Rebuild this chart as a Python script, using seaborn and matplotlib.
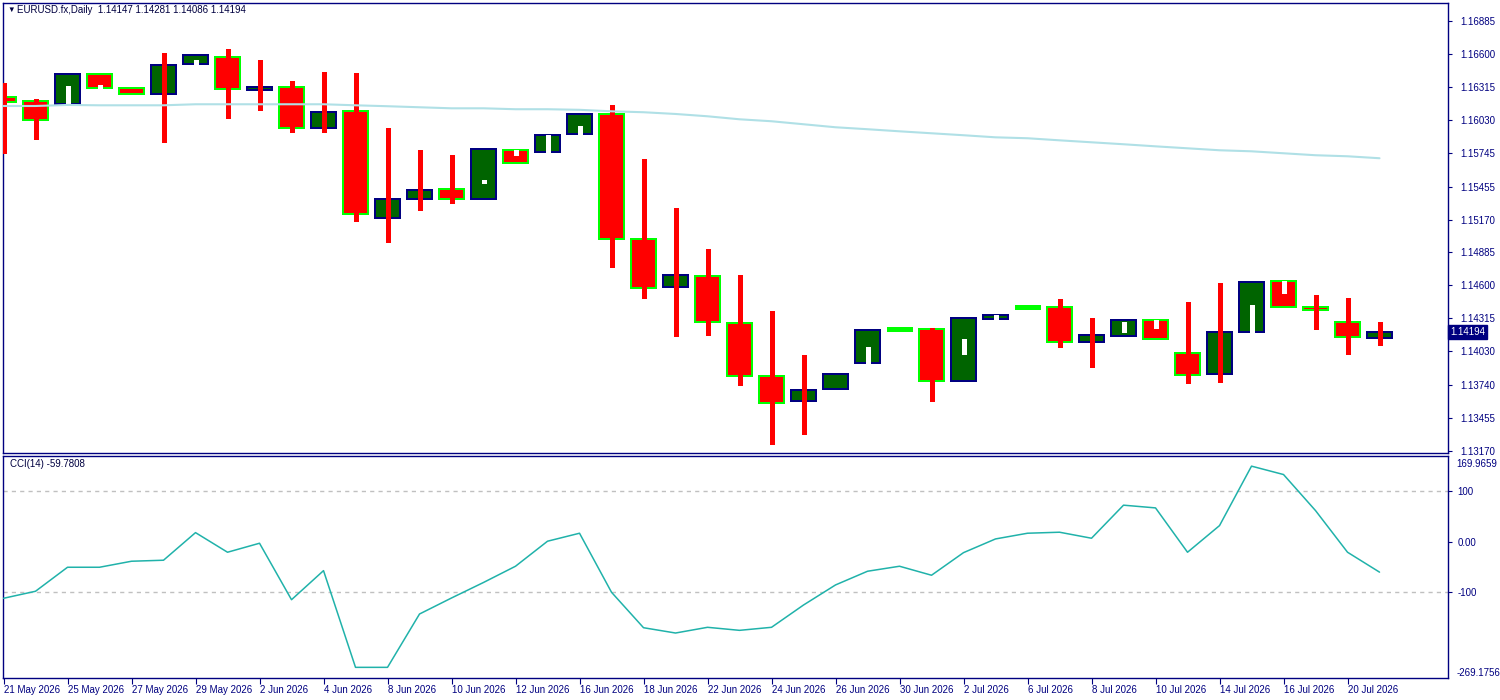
import matplotlib
matplotlib.use("Agg")
import matplotlib.pyplot as plt
import matplotlib.transforms as mtransforms
import numpy as np
import pandas as pd
import seaborn as sns

# daily bars, 21 May .. 21 Jul 2026 (weekdays)
dates = pd.bdate_range("2026-05-21", "2026-07-21")

opens = [1.16227, 1.16193, 1.16167, 1.16426, 1.16305, 1.16253, 1.16513, 1.16574, 1.16293, 1.16314,
         1.15964, 1.16109, 1.15186, 1.15345, 1.15431, 1.15345, 1.15769, 1.15757, 1.15913, 1.16080,
         1.15004, 1.14584, 1.14679, 1.14272, 1.13814, 1.13597, 1.13701, 1.13926, 1.14220, 1.14220,
         1.13770, 1.14307, 1.14416, 1.14411, 1.14113, 1.14165, 1.14298, 1.14013, 1.13831, 1.14194,
         1.14635, 1.14411, 1.14281, 1.14147]
highs = [1.16349, 1.16213, 1.16426, 1.16426, 1.16305, 1.16608, 1.16593, 1.16645, 1.16550, 1.16369,
         1.16446, 1.16438, 1.15962, 1.15772, 1.15728, 1.15778, 1.15769, 1.15899, 1.16080, 1.16161,
         1.15694, 1.15270, 1.14915, 1.14690, 1.14379, 1.13998, 1.13831, 1.14212, 1.14220, 1.14231,
         1.14315, 1.14341, 1.14416, 1.14482, 1.14318, 1.14298, 1.14298, 1.14456, 1.14621, 1.14627,
         1.14635, 1.14517, 1.14494, 1.14281]
lows = [1.15748, 1.15867, 1.16167, 1.16305, 1.16253, 1.15843, 1.16513, 1.16051, 1.16118, 1.15927,
        1.15927, 1.15157, 1.14976, 1.15255, 1.15316, 1.15345, 1.15662, 1.15757, 1.15913, 1.14759,
        1.14494, 1.14165, 1.14173, 1.13741, 1.13230, 1.13317, 1.13701, 1.13926, 1.14220, 1.13602,
        1.13770, 1.14307, 1.14416, 1.14070, 1.13897, 1.14165, 1.14134, 1.13758, 1.13767, 1.14194,
        1.14416, 1.14225, 1.14009, 1.14086]
closes = [1.16184, 1.16028, 1.16426, 1.16305, 1.16253, 1.16504, 1.16593, 1.16302, 1.16317, 1.15964,
          1.16098, 1.15215, 1.15345, 1.15423, 1.15345, 1.15778, 1.15662, 1.15899, 1.16080, 1.15004,
          1.14575, 1.14687, 1.14281, 1.13814, 1.13580, 1.13692, 1.13831, 1.14212, 1.14220, 1.13770,
          1.14315, 1.14341, 1.14416, 1.14113, 1.14168, 1.14298, 1.14134, 1.13822, 1.14194, 1.14627,
          1.14416, 1.14385, 1.14151, 1.14194]
ma_vals = [1.16152, 1.16152, 1.16161, 1.16158, 1.16158, 1.16158, 1.16167, 1.16167, 1.16167, 1.16167,
           1.16167, 1.16158, 1.16150, 1.16141, 1.16132, 1.16132, 1.16124, 1.16124, 1.16119, 1.16106,
           1.16098, 1.16083, 1.16063, 1.16037, 1.16020, 1.15994, 1.15968, 1.15951, 1.15933, 1.15916,
           1.15899, 1.15881, 1.15873, 1.15855, 1.15838, 1.15821, 1.15803, 1.15786, 1.15769, 1.15760,
           1.15743, 1.15726, 1.15717, 1.15700]
cci_vals = [-111.5, -97.6, -50.1, -50.1, -38.2, -36.2, 18.4, -20.4, -2.6, -114.3,
            -56.8, -248.1, -248.1, -142.6, -110.9, -80.2, -48.1, 1.4, 17.2, -99.6,
            -169.7, -180.2, -168.9, -174.9, -168.9, -124.8, -85.1, -58.0, -48.1, -65.9,
            -21.2, 5.9, 17.2, 19.2, 7.3, 72.7, 67.3, -20.4, 32.3, 149.9,
            133.3, 62.0, -20.4, -59.7808]

# heavier red wick pieces seen on some bars
thick_idx = [0, 5, 8, 9, 10, 11, 12, 13, 14, 20, 21, 22, 23, 24, 25, 34, 37, 38, 42, 43]
thick_top = [1.16282, 1.16317, 1.16412, 1.16369, 1.16256, 1.16187, 1.15962, 1.15616, 1.15538, 1.15694,
             1.15270, 1.14915, 1.14690, 1.14379, 1.13998, 1.14275, 1.14266, 1.14148, 1.14396, 1.14281]
thick_bot = [1.16126, 1.16299, 1.16314, 1.16314, 1.16109, 1.16109, 1.15261, 1.15443, 1.15451, 1.15004,
             1.14554, 1.14679, 1.14272, 1.13814, 1.13617, 1.14113, 1.14013, 1.14102, 1.14281, 1.14171]
# white gaps inside some bodies
gap_idx = [2, 3, 6, 15, 16, 17, 18, 27, 30, 31, 35, 36, 39, 40]
gap_top = [1.16325, 1.16334, 1.16550, 1.15512, 1.15769, 1.15899, 1.15979, 1.14070, 1.14136, 1.14341,
           1.14286, 1.14298, 1.14430, 1.14635]
gap_bot = [1.16167, 1.16305, 1.16513, 1.15489, 1.15728, 1.15757, 1.15913, 1.13926, 1.14004, 1.14307,
           1.14194, 1.14231, 1.14194, 1.14534]

price_ticks = [1.13170, 1.13455, 1.13740, 1.14030, 1.14315, 1.14600, 1.14885,
               1.15170, 1.15455, 1.15745, 1.16030, 1.16315, 1.16600, 1.16885]
cci_ticks = [100, 0, -100]
cci_tick_labels = ["100", "0.00", "-100"]
cci_max, cci_min = 169.9659, -269.1756
last_price = 1.14194

NAVY = "#000080"
df = pd.DataFrame({"idx": np.arange(len(dates)), "open": opens, "high": highs,
                   "low": lows, "close": closes, "ma": ma_vals, "cci": cci_vals})

sns.set_style("white")
plt.rcParams["font.family"] = ["Liberation Sans", "DejaVu Sans"]

fig = plt.figure(figsize=(15, 7), dpi=100)
ax = fig.add_axes([3 / 1500, 1 - 453 / 700, 1445 / 1500, 450 / 700])
ax2 = fig.add_axes([3 / 1500, 1 - 678 / 700, 1445 / 1500, 222 / 700])

# candles
bull = df[df.close > df.open]
bear = df[df.close < df.open]
doji = df[df.close == df.open]
w = 0.78
ax.bar(bull.idx, bull.close - bull.open, bottom=bull.open, width=w,
       color="#006400", edgecolor=NAVY, linewidth=1.1, zorder=2, antialiased=False)
ax.bar(bear.idx, bear.open - bear.close, bottom=bear.close, width=w,
       color="#FF0000", edgecolor="#00FF00", linewidth=1.1, zorder=2, antialiased=False)
ax.hlines(doji.close, doji.idx - w / 2, doji.idx + w / 2, color="#00FF00", lw=2.2, zorder=2,
          antialiased=False)
ax.vlines(gap_idx, gap_bot, gap_top, color="white", lw=3.6, zorder=2.5, antialiased=False)
body_top = df[["open", "close"]].max(axis=1)
body_bot = df[["open", "close"]].min(axis=1)
has_wick = (df.high > body_top) | (df.low < body_bot)
wk = df[has_wick]
ax.vlines(wk.idx, wk.low, wk.high, color="#FF0000", lw=2.2, zorder=3, antialiased=False)
ax.vlines(thick_idx, thick_bot, thick_top, color="#FF0000", lw=3.6, zorder=3, antialiased=False)

sns.lineplot(data=df, x="idx", y="ma", ax=ax, color="#B0E0E6", lw=1.5, zorder=4)

ax.set_xlim(-0.016, 45.14)
ax.set_ylim(1.13150, 1.17043)
ax.set_xticks([])
ax.set_xlabel("")
ax.set_ylabel("")
ax.yaxis.tick_right()
ax.set_yticks(price_ticks)
ax.set_yticklabels([f"{t:.5f}" for t in price_ticks])
ax.tick_params(axis="y", length=3, width=0.8, color=NAVY, labelcolor=NAVY,
               labelsize=7, pad=6, right=True)
for s in ax.spines.values():
    s.set_color(NAVY)
    s.set_linewidth(1.0)

trans = mtransforms.blended_transform_factory(ax.transAxes, ax.transData)
ax.text(1.0015, last_price, f"{last_price:.5f}", transform=trans, ha="left", va="center",
        fontsize=7, color="white",
        bbox=dict(boxstyle="square,pad=0.2", fc=NAVY, ec=NAVY))

fig.text(7 / 1500, 1 - 10 / 700, "\u25bc", fontsize=5.5, color="#000040", va="center")
fig.text(17 / 1500, 1 - 10 / 700, "EURUSD.fx,Daily  1.14147 1.14281 1.14086 1.14194",
         fontsize=7, color="#000040", va="center")

# CCI panel
for lvl in (100, -100):
    ax2.axhline(lvl, color="#C0C0C0", lw=1, dashes=(3, 3), zorder=1)
sns.lineplot(data=df, x="idx", y="cci", ax=ax2, color="#20B2AA", lw=1.1, zorder=3)
ax2.set_xlim(-0.016, 45.14)
ax2.set_ylim(cci_min, cci_max)
ax2.set_xlabel("")
ax2.set_ylabel("")
ax2.yaxis.tick_right()
ax2.set_yticks(cci_ticks)
ax2.set_yticklabels(cci_tick_labels)
ax2.tick_params(axis="y", length=3, width=0.8, color=NAVY, labelcolor=NAVY,
                labelsize=7, pad=4, right=True)
trans2 = mtransforms.blended_transform_factory(ax2.transAxes, ax2.transData)
ax2.annotate(f"{cci_max:.4f}", xy=(1.006, cci_max), xycoords=trans2, xytext=(0, -2),
             textcoords="offset points", ha="left", va="top", fontsize=7, color=NAVY,
             annotation_clip=False)
ax2.text(1.006, cci_min, f"{cci_min:.4f}", transform=trans2, ha="left", va="bottom",
         fontsize=7, color=NAVY)
ax2.text(7 / 1445, 0.965, f"CCI(14) {cci_vals[-1]:.4f}", transform=ax2.transAxes,
         ha="left", va="center", fontsize=7, color="#000040")

tick_idx = df.idx[::2]
tick_lab = [f"{d.day} {d.strftime('%b %Y')}" for d in dates[::2]]
ax2.set_xticks(tick_idx)
ax2.set_xticklabels(tick_lab, ha="left")
ax2.tick_params(axis="x", length=4, width=0.8, color=NAVY, labelcolor=NAVY,
                labelsize=7, pad=1, bottom=True)
for s in ax2.spines.values():
    s.set_color(NAVY)
    s.set_linewidth(1.0)

fig.savefig("out.png", dpi=100)
